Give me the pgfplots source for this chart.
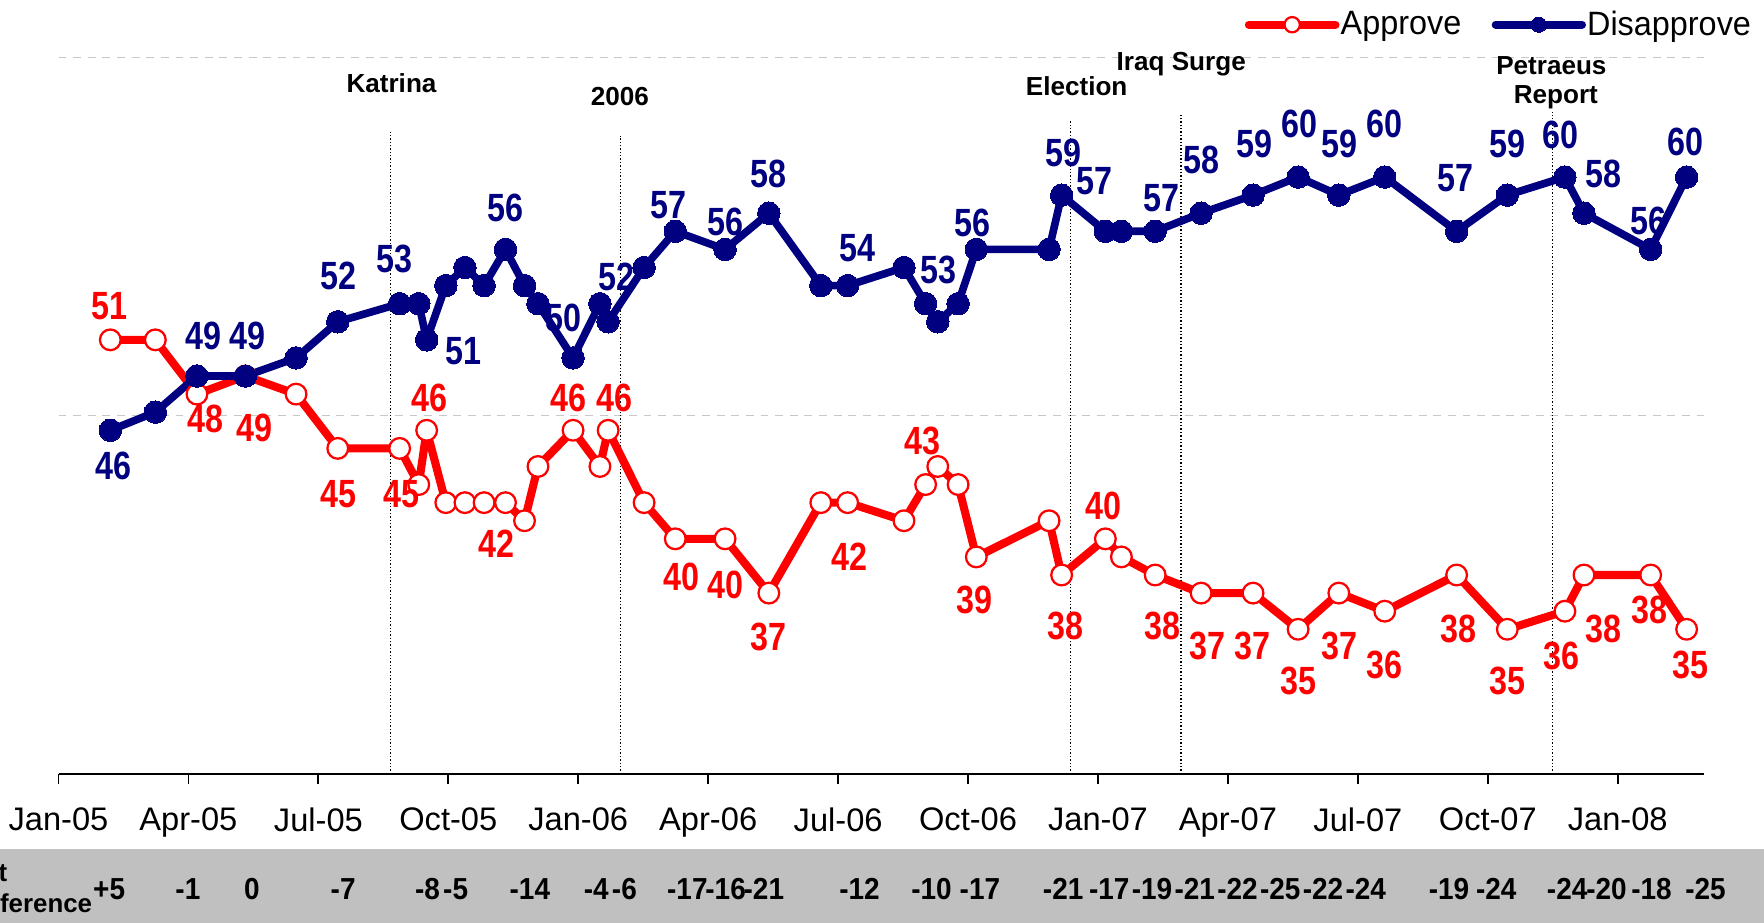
\documentclass[border=0pt]{standalone}
\usepackage{fontspec}
\setmainfont{Liberation Sans}
\newfontfamily\nar[FakeStretch=0.82]{Liberation Sans}
\newfontfamily\tickf[FakeStretch=1.0]{Liberation Sans}
\newfontfamily\ndf[FakeStretch=0.92]{Liberation Sans}
\newfontfamily\legf[FakeStretch=0.96]{Liberation Sans}
\usepackage{pgfplots}
\pgfplotsset{compat=1.18}
\usepackage{pgfplotstable}
\definecolor{navyb}{HTML}{000080}
\definecolor{bandc}{HTML}{C0C0C0}
\definecolor{gridc}{HTML}{C8C8C8}

\pgfplotstableread{
x a d
1.196 51 46
2.236 51 47
3.197 48 49
4.315 49 49
5.485 48 50
6.447 45 52
7.876 45 53
8.318 43 53
8.500 46 51
8.942 42 54
9.384 42 55
9.826 42 54
10.32 42 56
10.76 41 54
11.07 44 53
11.88 46 50
12.50 44 53
12.69 46 52
13.52 42 55
14.24 40 57
15.39 40 56
16.40 37 58
17.60 42 54
18.22 42 54
19.52 41 55
20.02 43 53
20.30 44 52
20.77 43 53
21.19 39 56
22.87 41 56
23.16 38 59
24.17 40 57
24.54 39 57
25.32 38 57
26.38 37 58
27.58 37 59
28.62 35 60
29.56 37 59
30.62 36 60
32.28 38 57
33.45 35 59
34.78 36 60
35.22 38 58
36.76 38 56
37.59 35 60
}\data

\tikzset{
  bl/.style={text=navyb, inner sep=0pt, anchor=center, font=\nar\bfseries\fontsize{17.5}{19}\selectfont},
  rl/.style={text=red, inner sep=0pt, anchor=center, font=\nar\bfseries\fontsize{17.5}{19}\selectfont},
  ev/.style={inner sep=0pt, anchor=center, font=\bfseries\fontsize{11.6}{13}\selectfont},
  nd/.style={inner sep=0pt, anchor=center, font=\ndf\bfseries\fontsize{13.5}{15}\selectfont},
}

\begin{document}
\begin{tikzpicture}
\useasboundingbox (0,0) rectangle (784pt,410pt);
\clip (0,0) rectangle (784pt,410pt);
\fill[bandc] (0,0) rectangle (784pt,32.5pt);
\begin{axis}[
  at={(26pt,66pt)}, anchor=south west,
  width=731.5pt, height=337.68pt, scale only axis,
  xmin=0, xmax=38, ymin=27, ymax=69,
  axis x line=bottom, axis y line=none,
  x axis line style={-, line width=1.2pt},
  xtick={0,3,...,36},
  xticklabels={Jan-05,Apr-05,Jul-05,Oct-05,Jan-06,Apr-06,Jul-06,Oct-06,Jan-07,Apr-07,Jul-07,Oct-07,Jan-08},
  xticklabel style={font=\tickf\fontsize{14.5}{16}\selectfont, inner sep=0pt, anchor=north, yshift=-10.3pt},
  tick align=outside, major tick length=4.5pt,
  x tick style={black, line width=0.8pt},
  ytick=\empty,
  clip=false,
  legend columns=2,
  legend style={at={(0.7205,0.9862)}, anchor=west, draw=none, fill=none, inner sep=0pt,
    font=\legf\fontsize{15}{18}\selectfont,
    /tikz/every even column/.append style={column sep=13pt},
    nodes={inner xsep=0.5pt, inner ysep=0pt}},
  legend image code/.code={\draw[mark repeat=2, mark phase=2, #1, line cap=round, mark size=3.4pt] plot coordinates {(0pt,0pt) (19.25pt,0pt) (38.5pt,0pt)};},
]
\draw[gridc, dash pattern=on 3.5pt off 3pt, line width=0.5pt] (axis cs:0,46.82) -- (axis cs:38,46.82);
\draw[gridc, dash pattern=on 3.5pt off 3pt, line width=0.5pt] (axis cs:0,66.6) -- (axis cs:38,66.6);
\draw[black, dash pattern=on 0.6pt off 0.9pt, line width=0.6pt] (axis cs:7.668,27) -- (axis cs:7.668,62.49);
\draw[black, dash pattern=on 0.6pt off 0.9pt, line width=0.6pt] (axis cs:12.97,27) -- (axis cs:12.97,62.27);
\draw[black, dash pattern=on 0.6pt off 0.9pt, line width=0.6pt] (axis cs:23.37,27) -- (axis cs:23.37,63.19);
\draw[black, dash pattern=on 0.6pt off 0.9pt, line width=0.6pt] (axis cs:25.92,27) -- (axis cs:25.92,63.56);
\draw[black, dash pattern=on 0.6pt off 0.9pt, line width=0.6pt] (axis cs:34.49,27) -- (axis cs:34.49,63.60);
\addplot[color=red, line width=3.6pt, line join=round, mark=*, mark size=4.6pt,
  mark options={fill=white, draw=red, line width=1pt}] table[x=x,y=a]{\data};
\addlegendentry{Approve}
\addplot[color=navyb, line width=3.4pt, line join=round, mark=*, mark size=5pt,
  mark options={fill=navyb, draw=navyb, line width=0pt}] table[x=x,y=d]{\data};
\addlegendentry{Disapprove}
\end{axis}
% event labels
\node[ev] at (174pt,373pt) {Katrina};
\node[ev] at (275.5pt,367pt) {2006};
\node[ev] at (478.5pt,371.5pt) {Election};
\node[ev] at (525pt,381.5pt) {Iraq Surge};
\node[ev] at (689.5pt,381pt) {Petraeus};
\node[ev] at (691.5pt,367pt) {Report};
% disapprove labels
\node[bl] at (50.5pt,203pt) {46};
\node[bl] at (90.5pt,260.5pt) {49};
\node[bl] at (110pt,260.5pt) {49};
\node[bl] at (150.5pt,287.5pt) {52};
\node[bl] at (175.5pt,295pt) {53};
\node[bl] at (206pt,254pt) {51};
\node[bl] at (224.5pt,317.5pt) {56};
\node[bl] at (250.5pt,268.5pt) {50};
\node[bl] at (274pt,287pt) {52};
\node[bl] at (297pt,319pt) {57};
\node[bl] at (322.5pt,311.5pt) {56};
\node[bl] at (341.5pt,332.5pt) {58};
\node[bl] at (381pt,299.5pt) {54};
\node[bl] at (417pt,290pt) {53};
\node[bl] at (432pt,311pt) {56};
\node[bl] at (472.5pt,342pt) {59};
\node[bl] at (486.5pt,329.5pt) {57};
\node[bl] at (516pt,322pt) {57};
\node[bl] at (534pt,339pt) {58};
\node[bl] at (557.5pt,346pt) {59};
\node[bl] at (577.5pt,355pt) {60};
\node[bl] at (595.5pt,346pt) {59};
\node[bl] at (615.5pt,355pt) {60};
\node[bl] at (647pt,331pt) {57};
\node[bl] at (670pt,346pt) {59};
\node[bl] at (693.5pt,350pt) {60};
\node[bl] at (712.5pt,332.5pt) {58};
\node[bl] at (732.5pt,312pt) {56};
\node[bl] at (749pt,347pt) {60};
% approve labels
\node[rl] at (48.5pt,274pt) {51};
\node[rl] at (91.5pt,224pt) {48};
\node[rl] at (113pt,220pt) {49};
\node[rl] at (150.5pt,190.5pt) {45};
\node[rl] at (178.5pt,190.5pt) {45};
\node[rl] at (191pt,233pt) {46};
\node[rl] at (220.5pt,168.5pt) {42};
\node[rl] at (252.5pt,233pt) {46};
\node[rl] at (273pt,233pt) {46};
\node[rl] at (303pt,153.5pt) {40};
\node[rl] at (322.5pt,150pt) {40};
\node[rl] at (341.5pt,127pt) {37};
\node[rl] at (377.5pt,162.5pt) {42};
\node[rl] at (410pt,214pt) {43};
\node[rl] at (433pt,143.5pt) {39};
\node[rl] at (473.5pt,132pt) {38};
\node[rl] at (490.5pt,185pt) {40};
\node[rl] at (516.5pt,132pt) {38};
\node[rl] at (536.5pt,123pt) {37};
\node[rl] at (556.5pt,123pt) {37};
\node[rl] at (577pt,107.5pt) {35};
\node[rl] at (595.5pt,123pt) {37};
\node[rl] at (615.5pt,114.5pt) {36};
\node[rl] at (648pt,130.5pt) {38};
\node[rl] at (670pt,107.5pt) {35};
\node[rl] at (694pt,118.5pt) {36};
\node[rl] at (712.5pt,130.5pt) {38};
\node[rl] at (733pt,139pt) {38};
\node[rl] at (751.5pt,114.5pt) {35};
% net difference row
\node[anchor=west, inner sep=0pt, font=\bfseries\fontsize{11.5}{13}\selectfont] at (-15.5pt,22pt) {Net};
\node[anchor=west, inner sep=0pt, font=\bfseries\fontsize{11.5}{13}\selectfont] at (-15.5pt,8.5pt) {Difference};
\foreach \px/\t in {97/+5,167/-1,224/0,305/-7,380/-8,405/-5,471/-14,530/-4,555/-6,611/-17,645/-16,679/-21,764/-12,828/-10,871/-17,945/-21,986/-17,1024/-19,1062/-21,1100/-22,1138/-25,1176/-22,1214/-24,1288/-19,1330/-24,1393/-24,1428/-20,1468/-18,1516/-25}
  \node[nd] at (\px*0.5pt,15pt) {\t};
\end{tikzpicture}
\end{document}
